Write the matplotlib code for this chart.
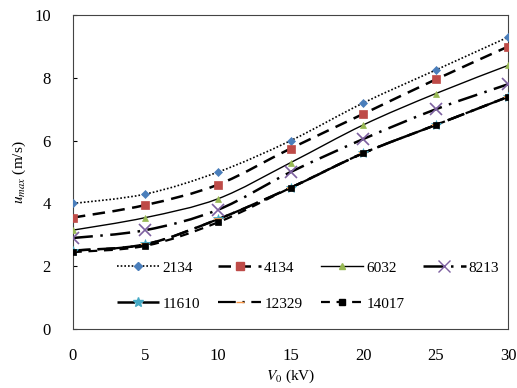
import numpy as np
import matplotlib
matplotlib.use("Agg")
import matplotlib.pyplot as plt
from matplotlib.path import Path
from matplotlib.patches import PathPatch
from matplotlib.lines import Line2D

plt.rcParams['font.family'] = ['Liberation Serif', 'DejaVu Serif']
plt.rcParams['mathtext.fontset'] = 'stix'

# applied voltage (kV)
v0 = [0, 5, 10, 15, 20, 25, 30]

# u_max (m/s) for each series
labels = ['2134', '4134', '6032', '8213', '11610', '12329', '14017']
u_2134 = [4.0, 4.3, 5.0, 6.0, 7.2, 8.25, 9.3]
u_4134 = [3.55, 3.95, 4.6, 5.75, 6.85, 7.95, 9.0]
u_6032 = [3.15, 3.55, 4.15, 5.3, 6.5, 7.5, 8.4]
u_8213 = [2.9, 3.15, 3.8, 5.0, 6.05, 7.0, 7.8]
u_11610 = [2.5, 2.7, 3.5, 4.5, 5.6, 6.5, 7.4]
u_12329 = [2.5, 2.7, 3.5, 4.5, 5.6, 6.5, 7.4]
u_14017 = [2.45, 2.65, 3.4, 4.5, 5.6, 6.5, 7.4]
series = [u_2134, u_4134, u_6032, u_8213, u_11610, u_12329, u_14017]

colors = ['#4a7ebb', '#be4b48', '#98b954', '#7d60a0', '#46aac5', '#f79646', '#000000']
markers = ['D', 's', '^', 'x', '*', '_', 's']
msizes = [4, 6, 5, 8, 7, 6, 4]
linestyles = [(0, (1, 1.2)), (0, (5, 3)), '-', (0, (8, 3, 1, 3)),
              (0, (7, 3)), (0, (8, 3, 1, 3)), (0, (4, 3))]
linewidths = [1.2, 1.8, 1.0, 1.8, 1.8, 1.6, 1.6]


def smooth_path(x, y):
    # Excel-style smoothed connector (Catmull-Rom as cubic Bezier)
    x = np.asarray(x, float)
    y = np.asarray(y, float)
    verts = [(x[0], y[0])]
    codes = [Path.MOVETO]
    n = len(x)
    for i in range(n - 1):
        p0 = (x[max(i - 1, 0)], y[max(i - 1, 0)])
        p1 = (x[i], y[i])
        p2 = (x[i + 1], y[i + 1])
        p3 = (x[min(i + 2, n - 1)], y[min(i + 2, n - 1)])
        c1 = (p1[0] + (p2[0] - p0[0]) / 6, p1[1] + (p2[1] - p0[1]) / 6)
        c2 = (p2[0] - (p3[0] - p1[0]) / 6, p2[1] - (p3[1] - p1[1]) / 6)
        verts += [c1, c2, p2]
        codes += [Path.CURVE4] * 3
    return Path(verts, codes)


fig = plt.figure(figsize=(5.17, 3.88), dpi=100)
ax = fig.add_axes([0.141, 0.152, 0.842, 0.809])

handles = []
for ys, lab, c, m, ms, ls, lw in zip(series, labels, colors, markers,
                                      msizes, linestyles, linewidths):
    ax.add_patch(PathPatch(smooth_path(v0, ys), fill=False, edgecolor='black',
                           linestyle=ls, linewidth=lw, zorder=2))
    ax.plot(v0, ys, linestyle='none', marker=m, color=c, markersize=ms,
            markeredgewidth=1.2 if m in ('x', '_') else 0.5, zorder=3)
    handles.append(Line2D([], [], color='black', linestyle=ls, linewidth=lw,
                          marker=m, markerfacecolor=c, markeredgecolor=c,
                          markersize=ms, label=lab))

ax.set_xlim(0, 30)
ax.set_ylim(0, 10)
ax.set_xticks([0, 5, 10, 15, 20, 25, 30])
ax.set_yticks([0, 2, 4, 6, 8, 10])
ax.tick_params(axis='both', labelsize=12, direction='in', length=3)
ax.tick_params(axis='y', pad=16)
ax.tick_params(axis='x', length=0, pad=14)
ax.set_xlabel(r'$V_0$ (kV)', fontsize=11, labelpad=2)
ax.set_ylabel(r'$u_{max}$ (m/s)', fontsize=11, labelpad=4)
for s in ax.spines.values():
    s.set_color('#444444')

# row-major legend: reorder for matplotlib's column-major fill
order = [0, 4, 1, 5, 2, 6, 3]
ax.legend(handles=[handles[i] for i in order], ncol=4, loc='lower center',
          bbox_to_anchor=(0.54, 0.015), frameon=False, fontsize=11,
          handlelength=2.8, handletextpad=0.2, columnspacing=1.2,
          labelspacing=1.45)

fig.savefig('out.png', dpi=100)
